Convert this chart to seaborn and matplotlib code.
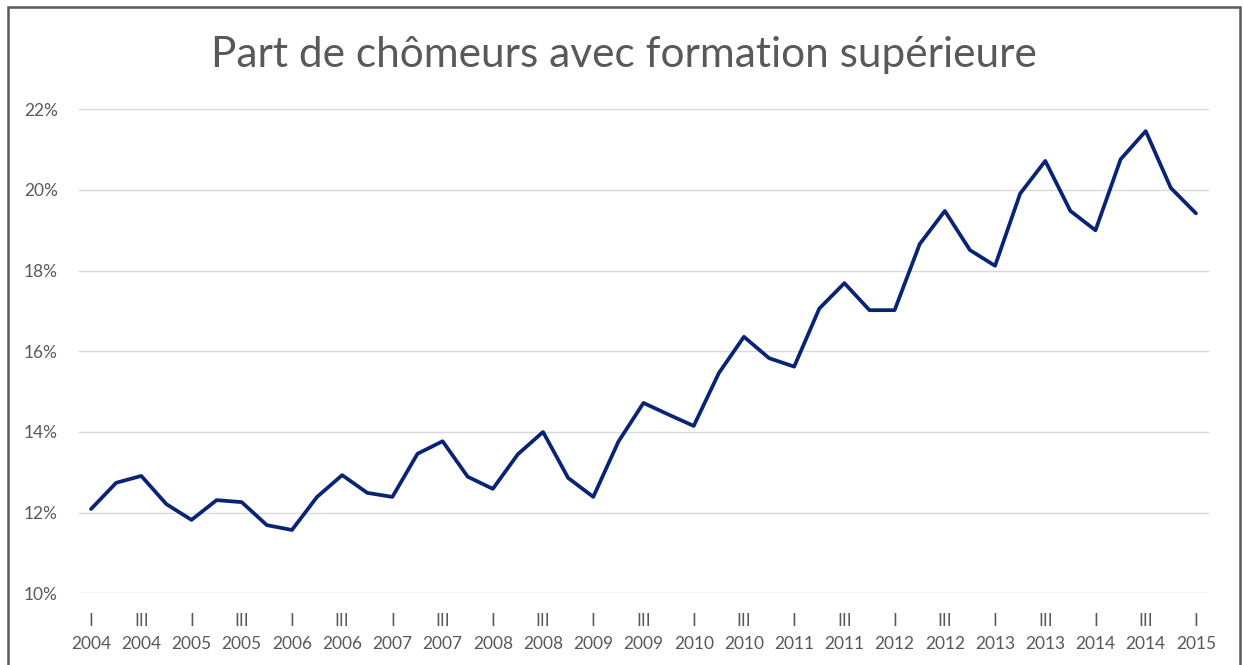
import matplotlib
matplotlib.use("Agg")
import matplotlib.pyplot as plt
import seaborn as sns
import numpy as np
import pandas as pd
from matplotlib.patches import Rectangle
from matplotlib.ticker import FuncFormatter

title = "Part de chômeurs avec formation supérieure"
years = list(range(2004, 2016))
quarter_names = ["I", "II", "III", "IV"]

# share (%) per quarter, 2004 Q1 .. 2015 Q1
values = [12.09, 12.74, 12.91, 12.21, 11.82, 12.31, 12.26, 11.69, 11.57,
          12.39, 12.93, 12.49, 12.39, 13.46, 13.77, 12.89, 12.59, 13.45,
          14.00, 12.86, 12.39, 13.76, 14.72, 14.43, 14.15, 15.46, 16.36,
          15.83, 15.62, 17.06, 17.69, 17.02, 17.02, 18.66, 19.48, 18.51,
          18.12, 19.91, 20.72, 19.48, 19.00, 20.76, 21.46, 20.05, 19.42]

periods = [(y, q) for y in years for q in quarter_names][:len(values)]
df = pd.DataFrame({
    "idx": np.arange(len(values)),
    "year": [p[0] for p in periods],
    "quarter": [p[1] for p in periods],
    "value": values,
})

sns.set_theme(style="white")
plt.rcParams["font.family"] = ["Lato", "DejaVu Sans"]

W, H = 1243, 665
fig = plt.figure(figsize=(W / 100, H / 100), dpi=100)
fig.patch.set_facecolor("white")

ax = fig.add_axes([78.5 / W, (H - 593.3) / H, (1208.5 - 78.5) / W, (593.3 - 109.3) / H])
sns.lineplot(data=df, x="idx", y="value", ax=ax, color="#0a2475", linewidth=2.7)

ax.set_xlim(-0.5, len(values) - 0.5)
ax.set_ylim(10, 22)
ax.set_yticks(np.arange(10, 23, 2))
ax.yaxis.set_major_formatter(FuncFormatter(lambda v, p: f"{v:.0f}%"))

tick_idx = df["idx"][::2]
ax.set_xticks(tick_idx)
ax.set_xticklabels([f"{q}\n{y}" for q, y in zip(df["quarter"][::2], df["year"][::2])],
                   linespacing=1.55)

ax.grid(axis="y", color="#d9d9d9", linewidth=1)
ax.grid(axis="x", visible=False)
for s in ax.spines.values():
    s.set_visible(False)
ax.tick_params(axis="x", length=0, pad=14, labelsize=12.5, labelcolor="#595959")
ax.tick_params(axis="y", length=0, pad=15, labelsize=12.5, labelcolor="#595959")
ax.set_xlabel("")
ax.set_ylabel("")

fig.text(624 / W, 1 - 55 / H, title, ha="center", va="center",
         fontsize=30.5, color="#595959")

fig.patches.append(Rectangle((8 / W, -0.05), (1240 - 8) / W, (H - 7) / H + 0.05,
                             transform=fig.transFigure, fill=False,
                             edgecolor="#595959", linewidth=1.8))

fig.savefig("out.png", dpi=100, facecolor="white")
